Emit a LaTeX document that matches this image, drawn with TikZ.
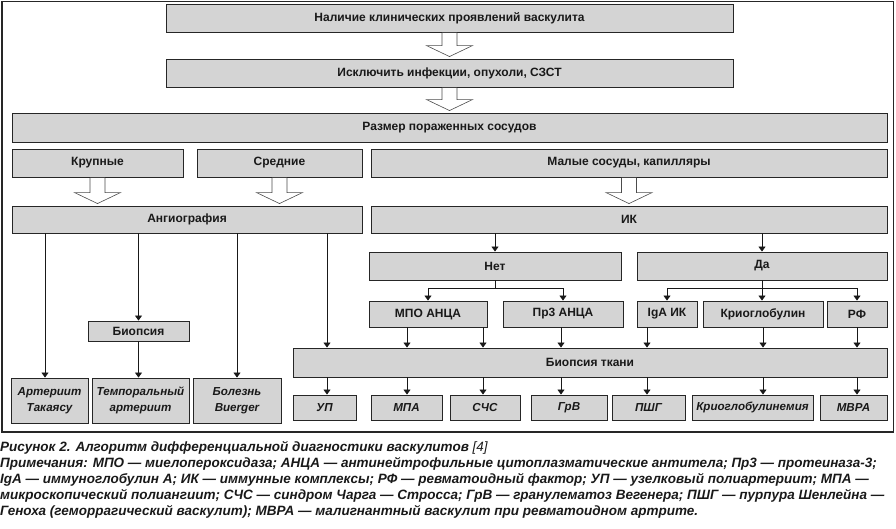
\documentclass[tikz,border=0pt]{standalone}
\usepackage{fontspec}
\setmainfont{Liberation Sans}
\usetikzlibrary{arrows.meta,calc}
\tikzset{
  box/.style={draw=black!85, fill=black!17, line width=0.9pt, inner sep=1pt,
    font=\bfseries\fontsize{12}{14}\selectfont, text=black!90, align=center},
  ibox/.style={box, font=\bfseries\itshape\fontsize{11.6}{15.5}\selectfont},
  arr/.style={draw=black!90, line width=0.8pt, -{Triangle[width=7pt,length=5pt]}},
  hollow/.style={draw=black!70, fill=white, line width=0.6pt, line join=miter},
  captext/.style={anchor=base west, inner sep=0pt, text=black!90,
    font=\bfseries\itshape\fontsize{13.5}{15}\selectfont},
}
\newcommand\bx[7][box]{\node[#1, minimum width={#5-#3}, minimum height={#6-#4}] (#2) at ({(#3+#5)/2},{(#4+#6)/2}) {#7};}
\newcommand\hol[2]{\draw[hollow] let \p1=(#1.south), \p2=(#2.north) in
  (\x1-7.5pt,\y1-0.4pt) -- (\x1-7.5pt,\y2+13pt) -- (\x1-23pt,\y2+13pt) -- (\x1,\y2+2pt)
  -- (\x1+23pt,\y2+13pt) -- (\x1+7.5pt,\y2+13pt) -- (\x1+7.5pt,\y1-0.4pt);}
\begin{document}
\begin{tikzpicture}[x=1pt,y=-1pt]
\useasboundingbox (0,0) rectangle (896,528);
\draw[line width=1.3pt, black!85] (2,1.5) rectangle (893.5,432);
\bx{top}{166}{4}{733}{32}{Наличие клинических проявлений васкулита}
\bx{excl}{166}{59}{733}{87}{Исключить инфекции, опухоли, СЗСТ}
\bx{size}{12}{113}{887}{142}{Размер пораженных сосудов}
\bx{large}{12}{149}{183}{177}{Крупные}
\bx{mid}{197}{149}{362}{177}{Средние}
\bx{small}{371}{149}{887}{177}{Малые сосуды, капилляры}
\bx{ang}{12}{206}{362}{233}{Ангиография}
\bx{ik}{371}{206}{887}{233}{ИК}
\bx{net}{369}{252}{621}{280}{Нет}
\bx{da}{637}{252}{887}{280}{Да}
\bx{bio}{88}{321}{189}{341}{Биопсия}
\bx{mpo}{369}{301}{487}{327}{МПО АНЦА}
\bx{pr3}{503}{301}{623}{327}{Пр3 АНЦА}
\bx{iga}{637}{301}{697}{327}{IgA ИК}
\bx{cryo}{703}{301}{823}{327}{Криоглобулин}
\bx{rf}{827}{301}{887}{327}{РФ}
\bx{biot}{293}{348}{887}{377}{Биопсия ткани}
\bx[ibox]{tak}{11}{378}{88}{423}{Артериит\\Такаясу}
\bx[ibox]{temp}{92}{378}{189}{423}{Темпоральный\\артериит}
\bx[ibox]{buer}{193}{378}{281}{423}{Болезнь\\Buerger}
\bx[ibox]{up}{293}{395}{356}{420}{УП}
\bx[ibox]{mpa}{371}{395}{442}{420}{МПА}
\bx[ibox]{chs}{450}{395}{520}{420}{СЧС}
\bx[ibox]{grv}{531}{395}{607}{420}{ГрВ}
\bx[ibox]{pshg}{612}{395}{685}{420}{ПШГ}
\bx[ibox]{cryg}{692}{395}{813}{420}{Криоглобулинемия}
\bx[ibox]{mvra}{820}{395}{887}{420}{МВРА}
% hollow arrows
\hol{top}{excl}
\hol{excl}{size}
\hol{large}{ang}
\hol{mid}{ang}
\hol{small}{ik}
% IK branches
\draw[arr] (ik.south -| net.north) -- (net.north);
\draw[arr] (ik.south -| da.north) -- (da.north);
\draw[arr] (net.south) -- ++(0,8) -| (mpo.north);
\draw[arr] (net.south) -- ++(0,8) -| (pr3.north);
\draw[arr] (da.south) -- ++(0,8) -| (iga.north);
\draw[arr] (da.south) -- (da.south |- cryo.north);
\draw[arr] (da.south) -- ++(0,8) -| (rf.north);
% angiography
\draw[arr] (ang.south -| 45,0) -- (tak.north -| 45,0);
\draw[arr] (ang.south -| bio.north) -- (bio.north);
\draw[arr] (bio.south) -- (temp.north -| bio.south);
\draw[arr] (ang.south -| buer.north) -- (buer.north);
\draw[arr] (ang.south -| 327,0) -- (biot.north -| 327,0);
% to tissue biopsy
\draw[arr] (mpo.south -| 407,0) -- (biot.north -| 407,0);
\draw[arr] (mpo.south -| 483,0) -- (biot.north -| 483,0);
\draw[arr] (pr3.south -| 561,0) -- (biot.north -| 561,0);
\draw[arr] (iga.south -| 647,0) -- (biot.north -| 647,0);
\draw[arr] (cryo.south -| 763,0) -- (biot.north -| 763,0);
\draw[arr] (rf.south -| 857,0) -- (biot.north -| 857,0);
\foreach \x/\n in {327/up,407/mpa,483/chs,561/grv,647/pshg,763/cryg,857/mvra}
  \draw[arr] (biot.south -| \x,0) -- (\n.north -| \x,0);
% caption
\node[captext] (c1) at (0,451) {Рисунок 2. Алгоритм дифференциальной диагностики васкулитов {\mdseries [4]}};
\node[captext] (c2) at (0,467) {Примечания: МПО — миелопероксидаза; АНЦА — антинейтрофильные цитоплазматические антитела; Пр3 — протеиназа-3;};
\node[captext] (c3) at (0,483) {IgA — иммуноглобулин А; ИК — иммунные комплексы; РФ — ревматоидный фактор; УП — узелковый полиартериит; МПА —};
\node[captext] (c4) at (0,499) {микроскопический полиангиит; СЧС — синдром Чарга — Стросса; ГрВ — гранулематоз Вегенера; ПШГ — пурпура Шенлейна —};
\node[captext] (c5) at (0,515) {Геноха (геморрагический васкулит); МВРА — малигнантный васкулит при ревматоидном артрите.};
\end{tikzpicture}
\end{document}
